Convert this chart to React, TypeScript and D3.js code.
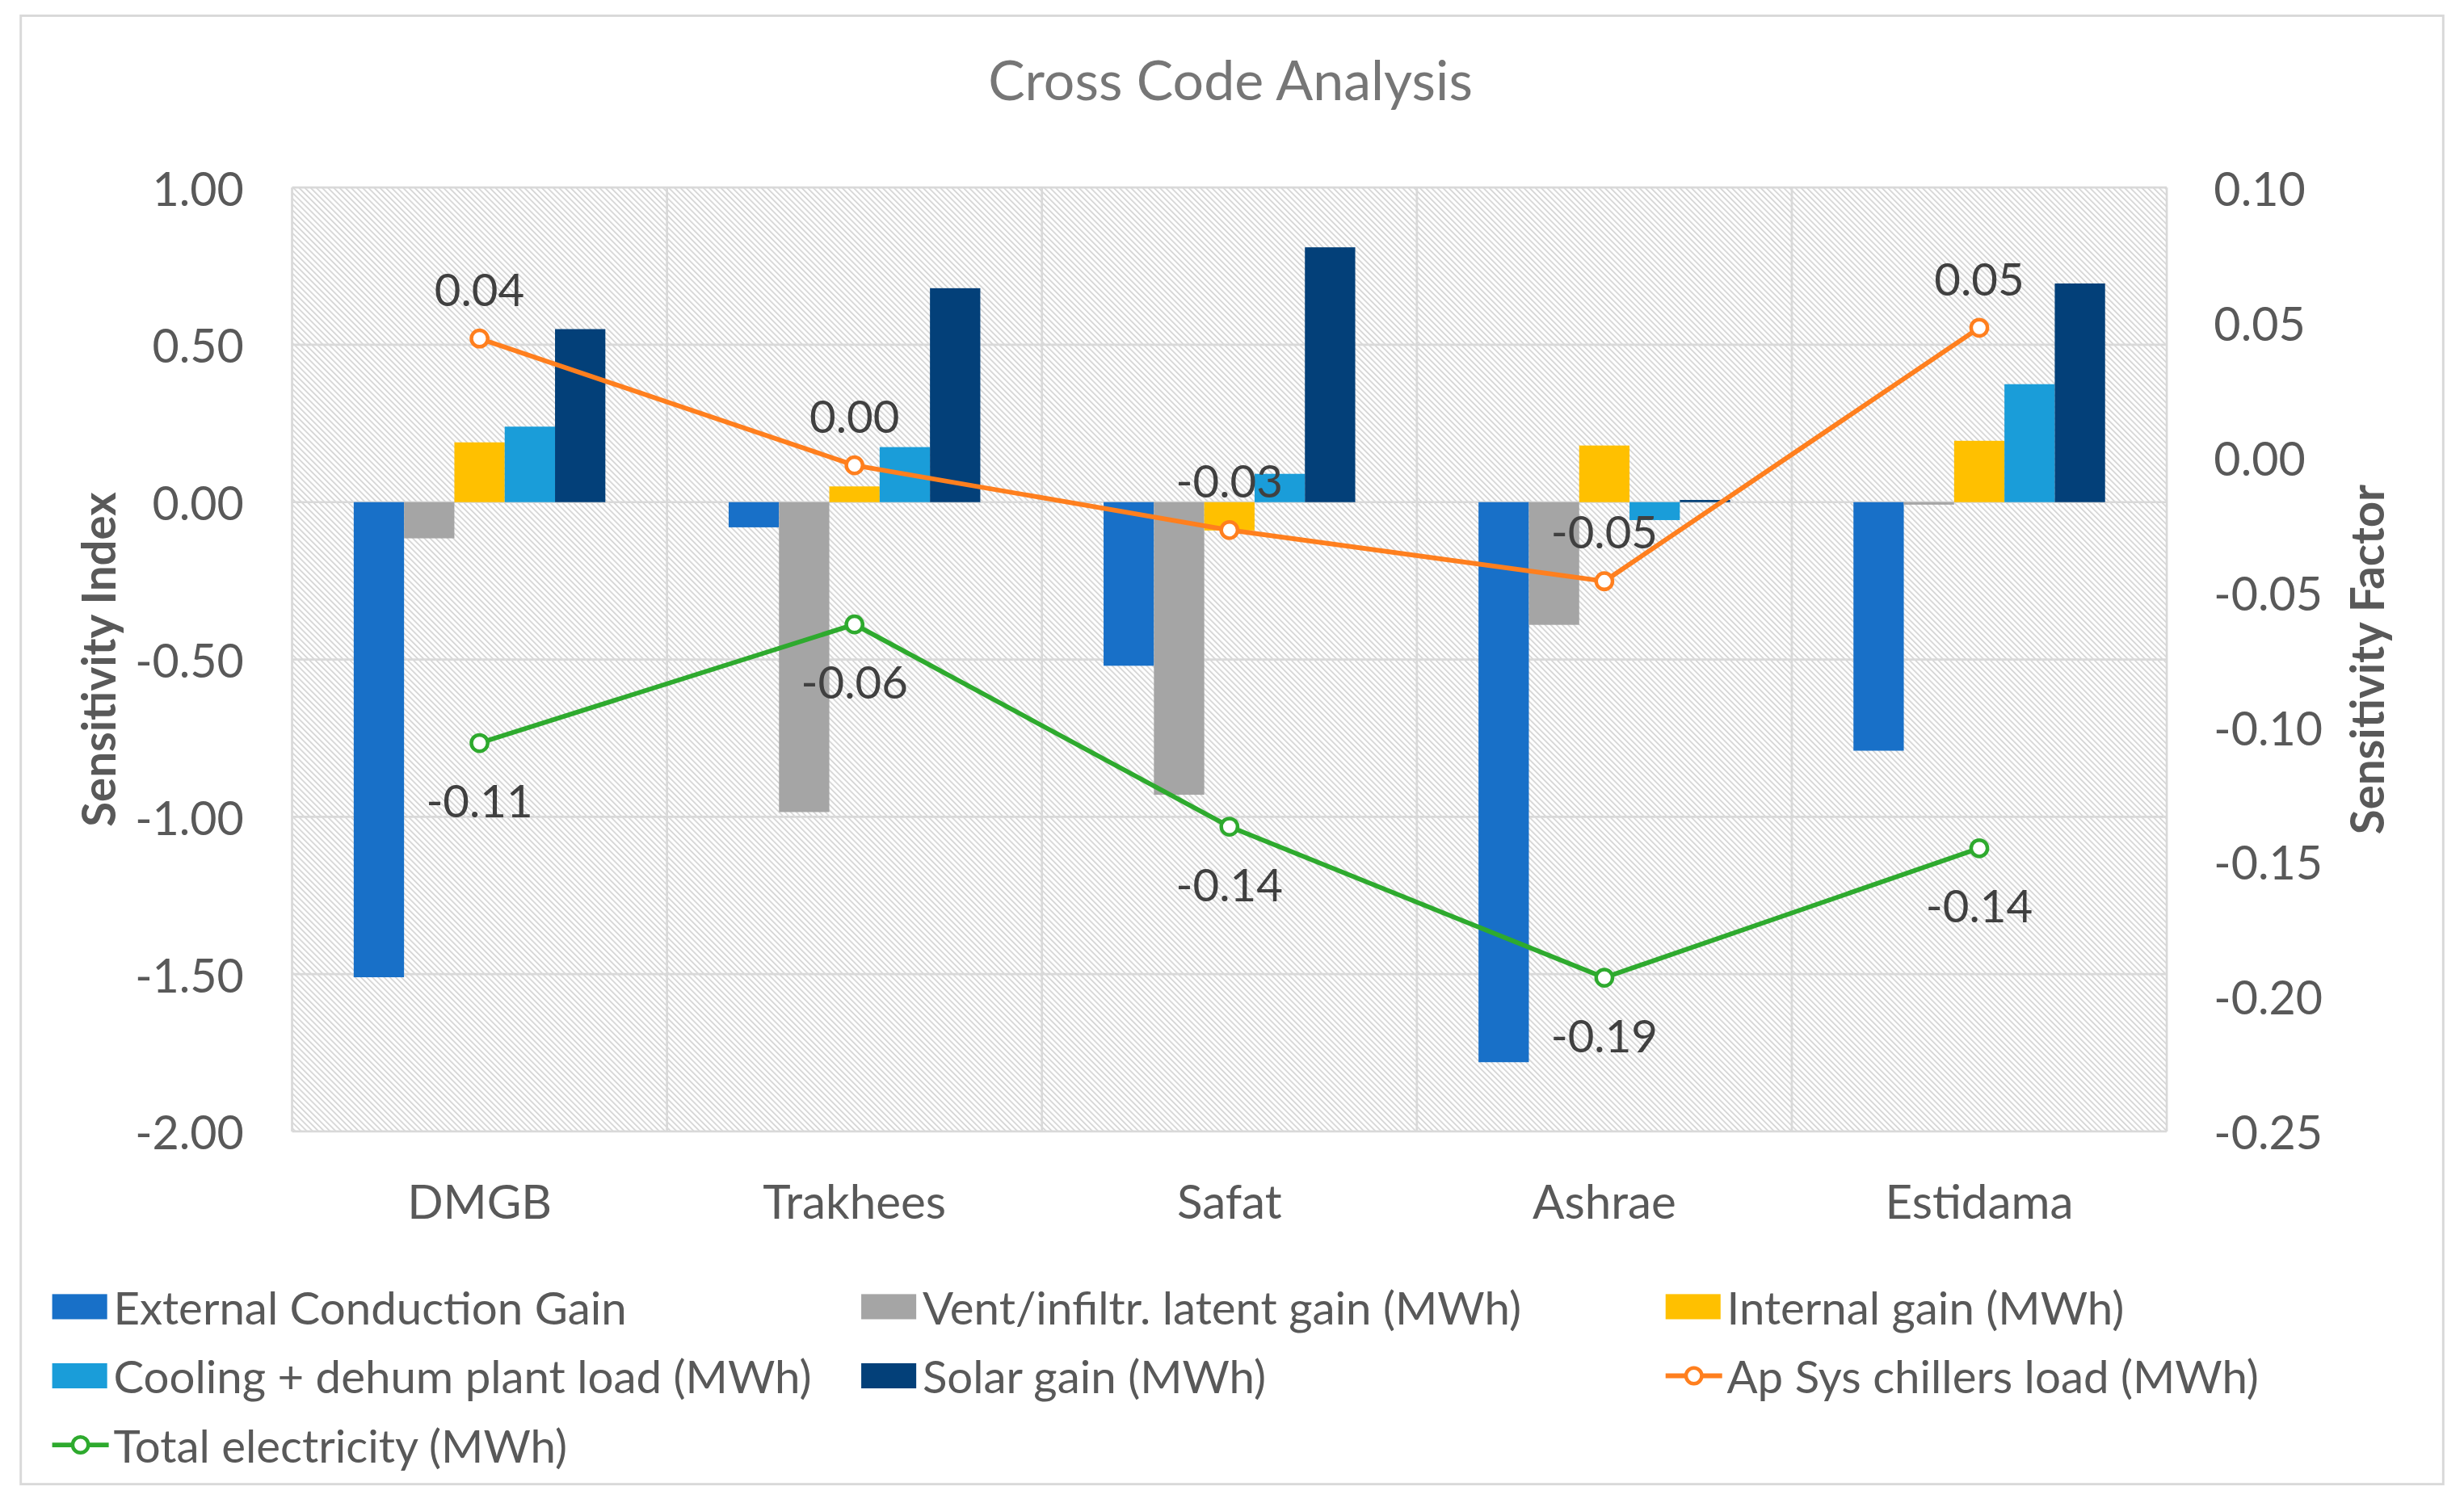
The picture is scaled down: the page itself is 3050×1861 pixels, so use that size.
import React from "react";
import * as d3 from "d3";

const categories = ["DMGB", "Trakhees", "Safat", "Ashrae", "Estidama"];
const extConduction = [-1.51, -0.08, -0.52, -1.78, -0.79];
const ventLatent = [-0.115, -0.985, -0.93, -0.39, -0.008];
const internalGain = [0.19, 0.05, -0.09, 0.18, 0.195];
const coolingLoad = [0.24, 0.175, 0.09, -0.057, 0.375];
const solarGain = [0.55, 0.68, 0.81, 0.007, 0.695];
const chillersLoad = [0.044, -0.003, -0.027, -0.046, 0.048];
const totalElectricity = [-0.106, -0.062, -0.137, -0.193, -0.145];

const barSeriesNames = [
  "External Conduction Gain",
  "Vent/infiltr. latent gain (MWh)",
  "Internal gain (MWh)",
  "Cooling + dehum plant load (MWh)",
  "Solar gain (MWh)",
];
const barSeriesValues = [extConduction, ventLatent, internalGain, coolingLoad, solarGain];
const barColors = ["#1870C8", "#A5A5A5", "#FFC000", "#1A9DD9", "#034079"];
const lineSeriesNames = ["Ap Sys chillers load (MWh)", "Total electricity (MWh)"];
const lineSeriesValues = [chillersLoad, totalElectricity];
const lineColors = ["#FF7F1E", "#2EAA2E"];

const leftTicks = [1.0, 0.5, 0.0, -0.5, -1.0, -1.5, -2.0];
const rightTicks = [0.1, 0.05, 0.0, -0.05, -0.1, -0.15, -0.2, -0.25];

const W = 1568;
const H = 957;
const FONT = "Lato, 'Open Sans', sans-serif";

export default function App() {
  const plot = { left: 185.7, right: 1379, top: 119.4, bottom: 720.4 };
  const yL = d3.scaleLinear().domain([-2, 1]).range([plot.bottom, plot.top]);
  const yR = d3.scaleLinear().domain([-0.25, 0.1]).range([plot.bottom, plot.top]);
  const x = d3.scaleBand<string>().domain(categories).range([plot.left, plot.right]).padding(0);
  const bw = x.bandwidth();
  const barW = bw / (5 + 2.45);
  const inner = d3
    .scaleBand<number>()
    .domain(d3.range(barSeriesValues.length))
    .range([-2.5 * barW, 2.5 * barW])
    .padding(0);
  const f2 = d3.format(".2f");
  const fmt = (v: number) => f2(v).replace("\u2212", "-");
  const lbl = (v: number) => {
    const s = fmt(v);
    return s === "-0.00" ? "0.00" : s;
  };
  const cx = (c: string) => (x(c) as number) + bw / 2;
  const lineGen = d3
    .line<number>()
    .x((_, i) => cx(categories[i]))
    .y((d) => yR(d));

  const legendItems = [
    { name: barSeriesNames[0], color: barColors[0], type: "bar" },
    { name: barSeriesNames[1], color: barColors[1], type: "bar" },
    { name: barSeriesNames[2], color: barColors[2], type: "bar" },
    { name: barSeriesNames[3], color: barColors[3], type: "bar" },
    { name: barSeriesNames[4], color: barColors[4], type: "bar" },
    { name: lineSeriesNames[0], color: lineColors[0], type: "line" },
    { name: lineSeriesNames[1], color: lineColors[1], type: "line" },
  ];
  const legendCols = [33, 548, 1060];
  const legendRows = [832, 876, 920];

  return (
    <svg
      width={3050}
      height={1861}
      viewBox={`0 0 ${W} ${H}`}
      style={{ position: "absolute", left: 0, top: 0, background: "#fff" }}
      fontFamily={FONT}
    >
      <defs>
        <pattern
          id="hatch"
          patternUnits="userSpaceOnUse"
          width={2.6}
          height={2.6}
          patternTransform="rotate(-45)"
        >
          <rect width={2.6} height={2.6} fill="#ffffff" />
          <line x1={0.5} y1={0} x2={0.5} y2={2.6} stroke="#d4d4d4" strokeWidth={0.9} />
        </pattern>
      </defs>
      <rect x={0} y={0} width={W} height={H} fill="#fff" />
      <rect x={13} y={10} width={1542} height={935} fill="#fff" stroke="#d9d9d9" strokeWidth={1.5} />

      <text x={783} y={50} textAnchor="middle" dominantBaseline="central" fontSize={35} fill="#767676">
        Cross Code Analysis
      </text>

      {/* plot area */}
      <rect
        x={plot.left}
        y={plot.top}
        width={plot.right - plot.left}
        height={plot.bottom - plot.top}
        fill="url(#hatch)"
      />
      {leftTicks.map((t) => (
        <line
          key={"g" + t}
          x1={plot.left}
          x2={plot.right}
          y1={yL(t)}
          y2={yL(t)}
          stroke="#d9d9d9"
          strokeWidth={1.4}
        />
      ))}
      {d3.range(categories.length + 1).map((i) => (
        <line
          key={"v" + i}
          x1={plot.left + i * bw}
          x2={plot.left + i * bw}
          y1={plot.top}
          y2={plot.bottom}
          stroke="#d9d9d9"
          strokeWidth={1.4}
        />
      ))}

      {/* bars */}
      {barSeriesValues.map((vals, si) =>
        vals.map((v, ci) => {
          const c = categories[ci];
          const x0 = cx(c) + (inner(si) as number);
          const y0 = yL(Math.max(0, v));
          const h = Math.abs(yL(v) - yL(0));
          return (
            <rect key={`b${si}-${ci}`} x={x0} y={y0} width={inner.bandwidth()} height={Math.max(h, 0.8)} fill={barColors[si]} />
          );
        })
      )}

      {/* lines */}
      {lineSeriesValues.map((vals, li) => (
        <g key={"l" + li}>
          <path d={lineGen(vals) as string} fill="none" stroke={lineColors[li]} strokeWidth={3} strokeLinejoin="round" />
          {vals.map((v, i) => (
            <circle
              key={i}
              cx={cx(categories[i])}
              cy={yR(v)}
              r={5.2}
              fill="#fff"
              stroke={lineColors[li]}
              strokeWidth={2.3}
            />
          ))}
          {vals.map((v, i) => (
            <text
              key={"t" + i}
              x={cx(categories[i])}
              y={yR(v) + (li === 0 ? -32 : 36)}
              textAnchor="middle"
              dominantBaseline="central"
              fontSize={29}
              fill="#404040"
            >
              {lbl(v)}
            </text>
          ))}
        </g>
      ))}

      {/* axes */}
      {leftTicks.map((t) => (
        <text
          key={"lt" + t}
          x={155}
          y={yL(t)}
          textAnchor="end"
          dominantBaseline="central"
          fontSize={29.5}
          fill="#595959"
        >
          {fmt(t)}
        </text>
      ))}
      {rightTicks.map((t) => (
        <text
          key={"rt" + t}
          x={1409}
          y={yR(t)}
          textAnchor="start"
          dominantBaseline="central"
          fontSize={29.5}
          fill="#595959"
        >
          {fmt(t)}
        </text>
      ))}
      <text
        transform={`translate(62,${(plot.top + plot.bottom) / 2}) rotate(-90)`}
        textAnchor="middle"
        dominantBaseline="central"
        fontSize={29}
        fontWeight="bold"
        fill="#595959"
      >
        Sensitivity Index
      </text>
      <text
        transform={`translate(1506,${(plot.top + plot.bottom) / 2}) rotate(-90)`}
        textAnchor="middle"
        dominantBaseline="central"
        fontSize={29}
        fontWeight="bold"
        fill="#595959"
      >
        Sensitivity Factor
      </text>

      {categories.map((c) => (
        <text
          key={"c" + c}
          x={cx(c)}
          y={764}
          textAnchor="middle"
          dominantBaseline="central"
          fontSize={30}
          fill="#595959"
        >
          {c}
        </text>
      ))}

      {/* legend */}
      {legendItems.map((it, i) => {
        const lx = legendCols[i % 3];
        const ly = legendRows[Math.floor(i / 3)];
        return (
          <g key={"lg" + i}>
            {it.type === "bar" ? (
              <rect x={lx} y={ly - 8} width={35} height={16} fill={it.color} />
            ) : (
              <g>
                <line x1={lx} x2={lx + 36} y1={ly} y2={ly} stroke={it.color} strokeWidth={3} />
                <circle cx={lx + 18} cy={ly} r={5} fill="#fff" stroke={it.color} strokeWidth={2.3} />
              </g>
            )}
            <text x={lx + 39} y={ly} dominantBaseline="central" fontSize={29} fill="#595959">
              {it.name}
            </text>
          </g>
        );
      })}
    </svg>
  );
}
